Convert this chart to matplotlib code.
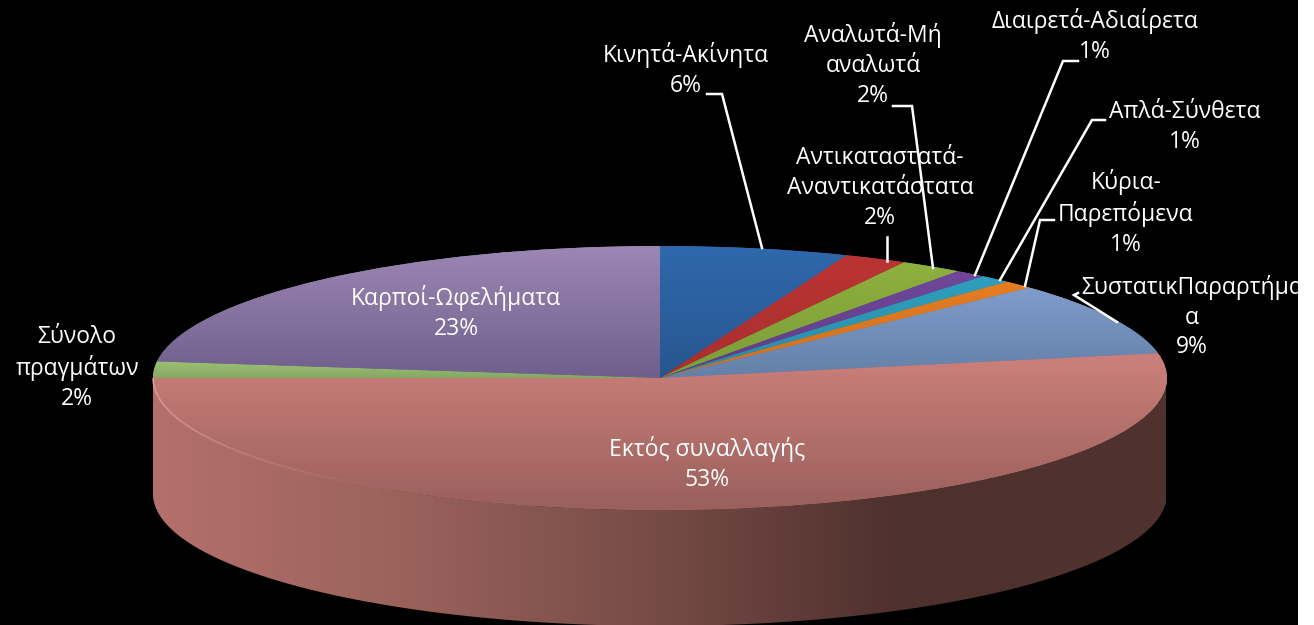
import numpy as np
import matplotlib
matplotlib.use('Agg')
import matplotlib.pyplot as plt
from matplotlib.colors import LinearSegmentedColormap
from matplotlib.patches import Polygon, Rectangle

plt.rcParams['font.family'] = ['Open Sans', 'Noto Sans', 'DejaVu Sans']

# data, clockwise from 12 o'clock
names = ['Κινητά-Ακίνητα', 'Αντικαταστατά-\nΑναντικατάστατα', 'Αναλωτά-Μή\nαναλωτά',
         'Διαιρετά-Αδιαίρετα', 'Απλά-Σύνθετα', 'Κύρια-\nΠαρεπόμενα',
         'ΣυστατικΠαραρτήμα\nα', 'Εκτός συναλλαγής', 'Σύνολο\nπραγμάτων',
         'Καρποί-Ωφελήματα']
values = [6, 2, 2, 1, 1, 1, 9, 53, 2, 23]

# slice colours, top and bottom of the gradient
top_cols = ['#2f68ad', '#bb3434', '#8db03e', '#70479b', '#2e9fbd', '#e57d22',
            '#7f9ccb', '#cc807b', '#9cc273', '#9c87b4']
low_cols = ['#27568f', '#a82f2f', '#7b9c38', '#5f3d85', '#2a8ba6', '#cf6f1e',
            '#6480a8', '#9a605c', '#86a864', '#6f5f8c']

# label text centres in pixels
label_pos = [(686, 70), (880, 188), (873, 65), (1095, 36), (1185, 127), (1126, 213),
             (1192, 317), (707, 464), (77, 368), (456, 313)]

# leader lines in pixels
leaders = [[(707, 94), (722, 94), (762, 248)],
           [(887, 237), (887, 261)],
           [(893, 106), (912, 106), (933, 268)],
           [(1078, 61), (1063, 61), (975, 275)],
           [(1105, 120), (1092, 120), (1000, 280)],
           [(1054, 220), (1040, 220), (1025, 286)],
           [(1078, 293), (1074, 295), (1117, 322)]]

W, H = 1314, 625
cx, cy, rx, ry, depth = 660, 378, 507, 132, 116

fig = plt.figure(figsize=(W / 100, H / 100), dpi=100, facecolor='black')

# pixel axes for the side wall
ax = fig.add_axes([0, 0, 1, 1], zorder=0)
ax.set_xlim(0, W)
ax.set_ylim(H, 0)
ax.axis('off')

t = np.radians(np.linspace(90, 270, 300))
xs = cx + rx * np.sin(t)
ys = cy - ry * np.cos(t)
wall = Polygon(np.r_[np.c_[xs, ys], np.c_[xs[::-1], ys[::-1] + depth]], closed=True,
               fc='none', ec='none')
ax.add_patch(wall)
stops_x = np.array([153, 400, 660, 900, 1166])
stops_c = np.array([[180, 112, 108], [155, 98, 92], [118, 75, 70], [78, 48, 45], [80, 50, 47]]) / 255
grid = np.linspace(153, 1166, 500)
img = np.stack([np.interp(grid, stops_x, stops_c[:, i]) for i in range(3)], axis=-1)[None, :, :]
im = ax.imshow(img, extent=(153, 1166, H, 300), aspect='auto', zorder=1)
im.set_clip_path(wall)
ax.set_xlim(0, W)
ax.set_ylim(H, 0)

# pie squashed into the ellipse of the top face
pax = fig.add_axes([(cx - rx) / W, 1 - (cy + ry) / H, 2 * rx / W, 2 * ry / H], zorder=1)
wedges, _ = pax.pie(values, startangle=90, counterclock=False, radius=1,
                    colors=top_cols, wedgeprops=dict(linewidth=0))
pax.set_aspect('auto')
for w, c1, c2 in zip(wedges, top_cols, low_cols):
    box = w.get_path().get_extents()
    cmap = LinearSegmentedColormap.from_list('g', [c1, c2])
    g = pax.imshow(np.linspace(0, 1, 200)[:, None], cmap=cmap, aspect='auto',
                   extent=(box.x0, box.x1, box.y0, box.y1), origin='upper', zorder=2)
    g.set_clip_path(w)
pax.set_xlim(-1, 1)
pax.set_ylim(-1, 1)
pax.patch.set_alpha(0)

# text, leaders and the rim highlight go on top
tx = fig.add_axes([0, 0, 1, 1], zorder=2)
tx.set_xlim(0, W)
tx.set_ylim(H, 0)
tx.axis('off')

rim = np.radians(np.linspace(270, 212, 30))
for i in range(len(rim) - 1):
    tx.plot(cx + rx * np.sin(rim[i:i + 2]), cy - ry * np.cos(rim[i:i + 2]),
            color='#f0b0ac', lw=1.3, alpha=0.7 * (1 - i / len(rim)),
            solid_capstyle='butt')

for pts in leaders:
    tx.plot([p[0] for p in pts], [p[1] for p in pts], color='white', lw=1.8,
            solid_joinstyle='miter')

for name, val, pos in zip(names, values, label_pos):
    tx.text(pos[0], pos[1], f'{name}\n{val}%', color='white', fontsize=16.5,
            ha='center', va='center', linespacing=1.33, zorder=3)

# white strip on the right edge of the source image
tx.add_patch(Rectangle((1298, 0), W - 1298, H, fc='white', ec='none', zorder=5))

fig.savefig('out.png', dpi=100, facecolor='black')
